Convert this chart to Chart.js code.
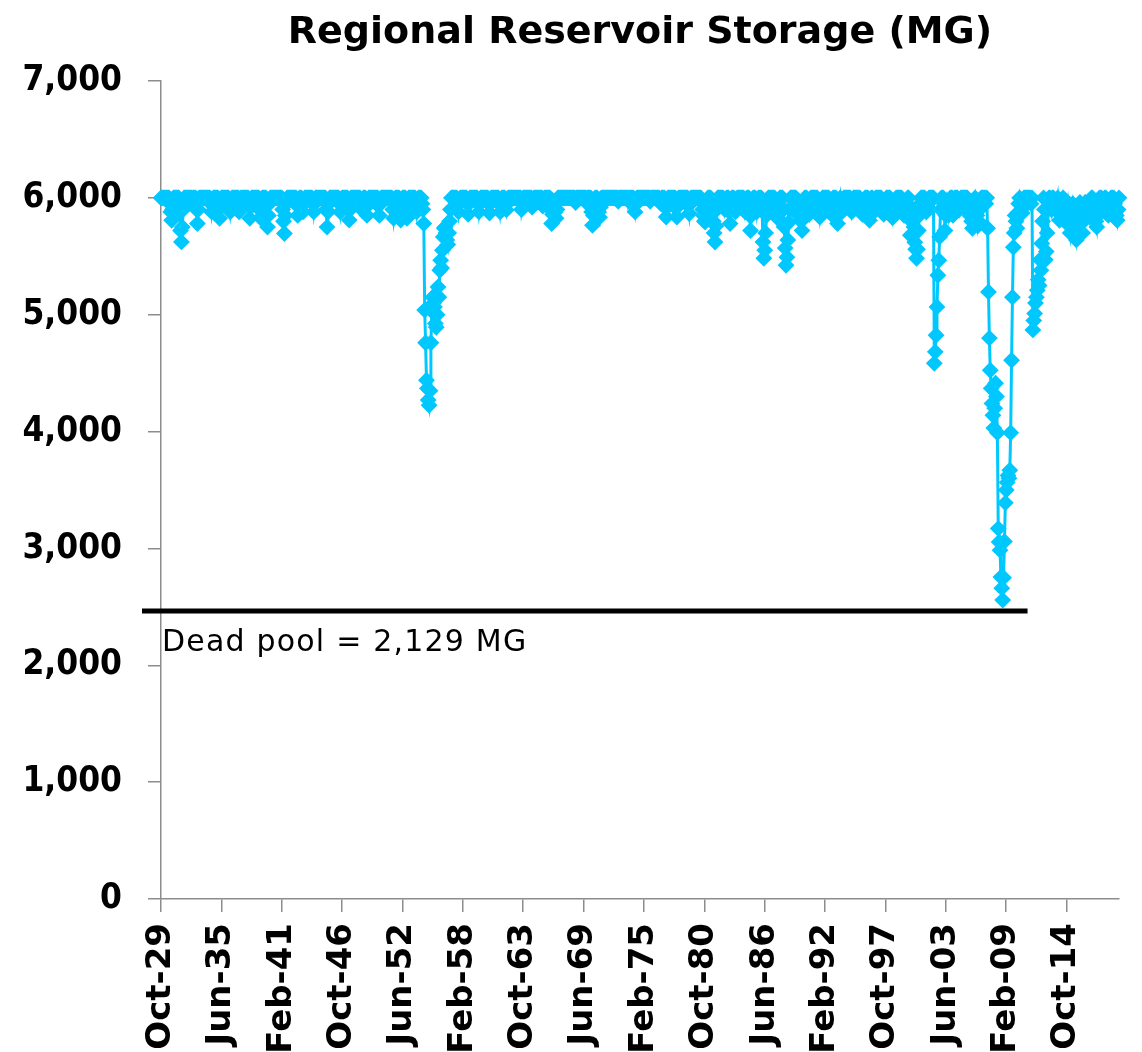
<!DOCTYPE html>
<html>
<head>
<meta charset="utf-8">
<title>Regional Reservoir Storage (MG)</title>
<script src="https://cdn.jsdelivr.net/npm/chart.js@4.4.0/dist/chart.umd.min.js"></script>
<style>
  html, body { margin: 0; padding: 0; background: #fff; }
  canvas { display: block; }
</style>
</head>
<body>
<canvas id="storageChart" width="1142" height="1052"></canvas>
<script>
const chartTitle = 'Regional Reservoir Storage (MG)';
const deadPoolText = 'Dead pool = 2,129 MG';
const deadPoolLineLevel = 2465;    // level where the black line is drawn
const deadPoolLineEndIndex = 976;  // month index where the black line stops

const monthNames = ['Jan', 'Feb', 'Mar', 'Apr', 'May', 'Jun', 'Jul', 'Aug', 'Sep', 'Oct', 'Nov', 'Dec'];
const firstYear = 1929;
const firstMonth = 9; // Oct
const tickLabels = ['Oct-29', 'Jun-35', 'Feb-41', 'Oct-46', 'Jun-52', 'Feb-58', 'Oct-63', 'Jun-69',
  'Feb-75', 'Oct-80', 'Jun-86', 'Feb-92', 'Oct-97', 'Jun-03', 'Feb-09', 'Oct-14'];
const yMin = 0, yMax = 7000, yStep = 1000;

// monthly storage (MG), one row per water year, Oct .. Sep
const wy1930s = [
  6000,6000,6000,6000,6000,6000,6000,6000,6000,6000,5950,5880,
  5808,5900,6000,6000,6000,6000,6000,6000,6000,5880,5720,5623,
  5750,5900,6000,6000,6000,6000,6000,6000,6000,6000,6000,5950,
  6000,6000,6000,6000,5900,5780,5900,6000,6000,6000,6000,6000,
  6000,6000,6000,6000,6000,6000,6000,6000,5950,5880,5950,6000,
  6000,6000,6000,6000,6000,5900,5825,5950,6000,6000,6000,6000,
  6000,6000,6000,6000,6000,5950,5880,5950,6000,6000,6000,6000,
  6000,6000,6000,6000,5880,5950,6000,6000,6000,6000,6000,6000,
  6000,6000,6000,5950,5825,5920,6000,6000,6000,6000,6000,6000,
  6000,6000,6000,5900,5830,5950,6000,6000,6000,6000,6000,5950
];
const wy1940s = [
  5750,5850,5950,6000,6000,6000,6000,6000,6000,6000,6000,6000,
  6000,6000,6000,6000,6000,5900,5800,5695,5850,5950,6000,6000,
  6000,6000,6000,6000,6000,6000,6000,6000,6000,5950,5850,5920,
  6000,6000,6000,5950,5880,5950,6000,6000,6000,6000,6000,6000,
  6000,6000,6000,5950,5880,5950,6000,6000,6000,6000,6000,6000,
  6000,6000,6000,6000,6000,6000,5900,5750,5880,5950,6000,6000,
  6000,6000,6000,6000,6000,6000,6000,6000,6000,5950,5880,5950,
  6000,6000,6000,6000,6000,6000,6000,5900,5810,5900,6000,6000,
  6000,6000,6000,6000,6000,6000,6000,6000,6000,5950,5900,5950,
  6000,6000,6000,5920,5850,5950,6000,6000,6000,6000,6000,6000
];
const wy1950s = [
  6000,6000,6000,6000,6000,5930,5850,5950,6000,6000,6000,6000,
  6000,6000,6000,6000,6000,6000,6000,6000,6000,5900,5825,5900,
  6000,6000,6000,6000,6000,5900,5810,5950,6000,6000,6000,6000,
  5880,5825,5920,6000,6000,6000,6000,6000,6000,6000,6000,5950,
  5880,5950,6000,6000,6000,6000,5950,5900,5780,5040,4760,4440,
  4370,4270,4225,4350,4760,5030,5150,5100,5067,4925,4893,5000,
  5238,5150,5380,5466,5400,5552,5666,5740,5750,5700,5640,5600,
  5700,5800,5900,6000,6000,6000,6000,6000,6000,6000,5950,5880,
  5950,6000,6000,6000,6000,6000,6000,6000,6000,5950,5860,5950,
  6000,6000,6000,6000,6000,6000,6000,6000,6000,5950,5880,5950
];
const wy1960s = [
  6000,6000,6000,6000,6000,6000,6000,6000,6000,5950,5870,5950,
  6000,6000,6000,6000,6000,6000,6000,6000,6000,5950,5880,5950,
  6000,6000,6000,6000,5950,5897,5950,6000,6000,6000,6000,6000,
  6000,6000,6000,6000,6000,6000,6000,6000,6000,6000,5900,5950,
  6000,6000,6000,6000,6000,6000,6000,6000,6000,6000,5920,5950,
  6000,6000,6000,6000,6000,6000,6000,6000,6000,6000,5930,5960,
  6000,6000,6000,6000,6000,6000,6000,5900,5780,5860,5950,5900,
  5880,5825,5900,6000,6000,6000,6000,6000,6000,6000,6000,6000,
  6000,6000,6000,6000,6000,6000,6000,6000,6000,6000,6000,5960,
  6000,6000,6000,6000,6000,6000,6000,6000,6000,6000,6000,5960
];
const wy1970s = [
  6000,6000,6000,6000,6000,5880,5765,5850,5950,6000,6000,6000,
  5920,5880,5835,5920,6000,6000,6000,6000,6000,6000,6000,6000,
  6000,6000,6000,6000,6000,6000,6000,6000,6000,6000,6000,5970,
  6000,6000,6000,6000,6000,6000,6000,6000,6000,6000,6000,5970,
  6000,6000,6000,6000,6000,5930,5880,5950,6000,6000,6000,6000,
  6000,6000,6000,6000,6000,6000,6000,6000,6000,6000,6000,5970,
  6000,6000,6000,6000,6000,6000,6000,6000,6000,6000,5970,5950,
  6000,6000,6000,6000,5920,5836,5920,6000,6000,6000,6000,6000,
  6000,6000,6000,6000,5910,5836,5930,6000,6000,6000,6000,6000,
  6000,6000,6000,6000,6000,6000,5930,5866,5950,6000,6000,6000
];
const wy1980s = [
  6000,6000,6000,6000,6000,6000,6000,6000,6000,5960,5900,5850,
  5800,5794,5880,5950,6000,6000,6000,6000,5950,5900,5800,5700,
  5622,5760,5900,6000,6000,6000,6000,6000,6000,6000,5950,5900,
  5950,6000,6000,6000,5880,5780,5900,6000,6000,6000,5950,5880,
  5900,6000,6000,6000,6000,6000,6000,6000,6000,5950,5880,5920,
  6000,6000,6000,5850,5720,5850,5950,6000,6000,6000,5950,5880,
  5950,6000,6000,6000,6000,5900,5622,5483,5552,5700,5850,5950,
  6000,6000,6000,6000,6000,6000,6000,6000,5950,5900,5830,5880,
  5950,6000,6000,6000,6000,5900,5750,5570,5423,5492,5640,5790,
  5900,6000,6000,6000,6000,6000,6000,6000,5950,5900,5850,5900
];
const wy1990s = [
  5850,5800,5720,5850,5950,6000,6000,6000,5950,5900,5860,5920,
  6000,6000,6000,6000,6000,6000,6000,6000,5950,5900,5836,5900,
  5950,6000,6000,6000,6000,6000,6000,6000,6000,5950,5880,5860,
  5920,6000,6000,6000,6000,5880,5780,5880,5950,6000,5920,5880,
  5950,6000,6000,6000,6000,6000,6000,6000,6000,5950,5880,5920,
  6000,6000,6000,6000,6000,6000,6000,6000,5950,5900,5860,5900,
  5950,6000,6000,6000,6000,5900,5808,5900,6000,6000,5920,5880,
  5920,6000,6000,6000,6000,6000,6000,6000,5950,5900,5860,5900,
  5950,6000,6000,6000,6000,6000,5950,5880,5830,5880,5920,5950,
  6000,6000,6000,6000,6000,6000,6000,5950,5890,5850,5870,5920
];
const wy2000s = [
  5950,6000,6000,5850,5680,5800,5900,5850,5750,5620,5560,5483,
  5560,5720,5850,5950,6000,6000,6000,6000,6000,5950,5880,5920,
  5950,6000,6000,6000,6000,6000,6000,4584,4682,4824,5067,5338,
  5466,5666,5900,6000,6000,6000,5950,5720,5850,5950,5900,5850,
  5920,6000,6000,6000,5850,5950,6000,6000,6000,6000,5950,5900,
  5950,6000,6000,6000,6000,6000,6000,6000,6000,5950,5880,5850,
  5850,5800,5740,5850,5950,6000,5950,5850,5760,5800,5900,5950,
  6000,6000,6000,6000,6000,5950,6000,5740,5195,4800,4525,4370,
  4240,4140,4030,4200,4414,4300,3990,3170,3055,2985,2755,2660,
  2558,2750,3060,3390,3500,3565,3625,3600,3670,3990,4610,5150
];
const wy2010s = [
  5577,5700,5850,5800,5740,5870,5950,6000,5950,5900,5870,5950,
  6000,6000,6000,6000,6000,6000,6000,6000,5950,6000,4870,4950,
  5010,5100,5150,5210,5300,5250,5470,5380,5610,5800,6000,5900,
  5470,5540,5700,5900,6000,6000,5950,5900,6000,6000,5950,5900,
  5900,5950,6000,5900,5808,5900,5866,5950,6000,5960,5920,5900,
  5920,5960,5850,5760,5700,5800,5900,5950,5900,5800,5700,5640,
  5700,5800,5900,5960,5900,5800,5700,5800,5900,5960,5920,5880,
  5900,5880,5836,5900,6000,6000,5950,5900,5850,5800,5750,5850,
  5950,6000,6000,6000,5950,5894,5950,6000,6000,5960,5900,5850,
  5880,5950,6000,6000,6000,6000,5950,5880,5850,5808,5900,6000
];

const storage = [].concat(wy1930s, wy1940s, wy1950s, wy1960s, wy1970s, wy1980s, wy1990s, wy2000s, wy2010s);

// category labels like "Oct-29"
const months = storage.map((v, i) => {
  const m = (firstMonth + i) % 12;
  const yr = firstYear + Math.floor((firstMonth + i) / 12);
  return monthNames[m] + '-' + String(yr % 100).padStart(2, '0');
});

const axisGrey = '#8c8c8c';
const seriesColor = '#00c8ff';

// title, dead pool line and its note
const overlay = {
  id: 'overlay',
  afterDatasetsDraw(chart) {
    const { ctx, chartArea, scales } = chart;
    const yLine = scales.y.getPixelForValue(deadPoolLineLevel);
    ctx.save();
    ctx.strokeStyle = '#000';
    ctx.lineWidth = 5;
    ctx.beginPath();
    ctx.moveTo(chartArea.left - 19, yLine);
    ctx.lineTo(scales.x.getPixelForValue(deadPoolLineEndIndex), yLine);
    ctx.stroke();

    ctx.fillStyle = '#000';
    ctx.font = '30px "DejaVu Sans", sans-serif';
    ctx.letterSpacing = '1.2px';
    ctx.textAlign = 'left';
    ctx.textBaseline = 'alphabetic';
    ctx.fillText(deadPoolText, chartArea.left + 1, yLine + 40);

    ctx.letterSpacing = '0px';
    ctx.font = 'bold 38px "DejaVu Sans", sans-serif';
    ctx.textAlign = 'center';
    ctx.fillText(chartTitle, (chartArea.left + chartArea.right) / 2, 43);
    ctx.restore();
  }
};

new Chart(document.getElementById('storageChart'), {
  type: 'line',
  data: {
    labels: months,
    datasets: [{
      data: storage,
      borderColor: seriesColor,
      backgroundColor: seriesColor,
      borderWidth: 3,
      pointStyle: 'rectRot',
      pointRadius: 7,
      pointBorderWidth: 2,
      pointHoverRadius: 7,
      tension: 0,
      fill: false
    }]
  },
  options: {
    responsive: false,
    animation: false,
    layout: { padding: { top: 81, right: 23, bottom: 0, left: 0 } },
    plugins: {
      legend: { display: false },
      title: { display: false },
      tooltip: { enabled: false }
    },
    scales: {
      x: {
        type: 'category',
        offset: false,
        afterFit(scale) { scale.height = 153; },
        border: { display: true, color: axisGrey, width: 1.5 },
        grid: { drawOnChartArea: false, drawTicks: true, tickLength: 13, color: axisGrey, lineWidth: 1.5 },
        ticks: {
          autoSkip: false,
          minRotation: 90,
          maxRotation: 90,
          padding: 11,
          color: '#000',
          font: { family: '"DejaVu Sans", sans-serif', size: 34, weight: 'bold' },
          callback(value) {
            const lab = this.getLabelForValue(value);
            return tickLabels.includes(lab) ? lab : null;
          }
        }
      },
      y: {
        min: yMin,
        max: yMax,
        afterFit(scale) { scale.width = 161; },
        border: { display: true, color: axisGrey, width: 1.5 },
        grid: { drawOnChartArea: false, drawTicks: true, tickLength: 13, color: axisGrey, lineWidth: 1.5 },
        ticks: {
          stepSize: yStep,
          padding: 26,
          color: '#000',
          font: { family: '"DejaVu Sans Condensed", "Liberation Sans", sans-serif', size: 35, weight: 'bold' },
          callback: (v) => v.toLocaleString('en-US')
        }
      }
    }
  },
  plugins: [overlay]
});
</script>
</body>
</html>
